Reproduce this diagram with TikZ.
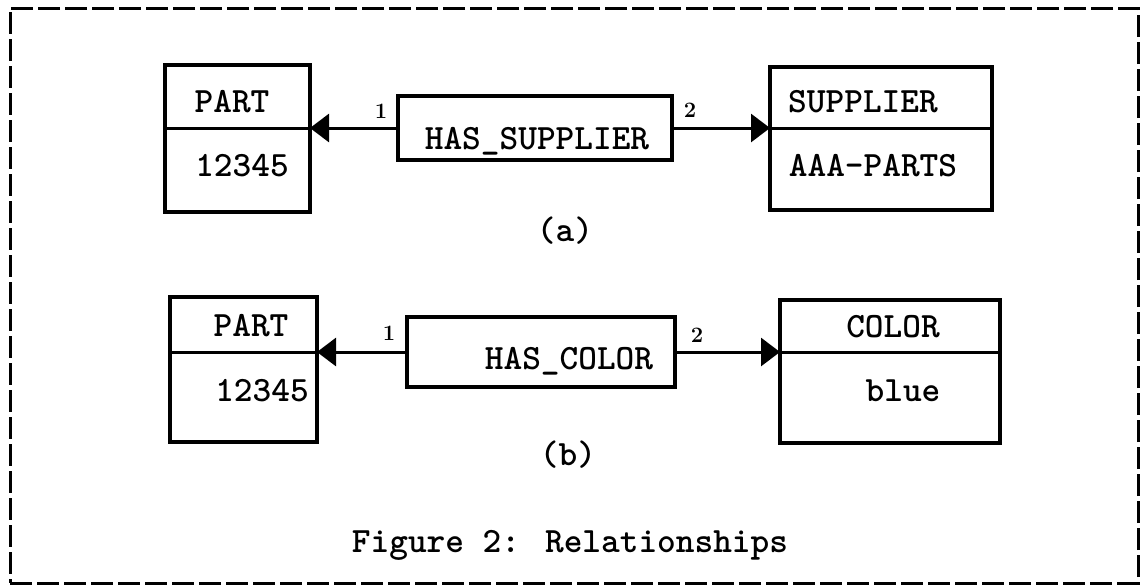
\documentclass[tikz,border=0pt]{standalone}
\usetikzlibrary{arrows.meta}
\begin{document}
\begin{tikzpicture}[x=0.5pt,y=-0.5pt,
  box/.style={draw, line width=1.7pt, inner sep=0pt, outer sep=0pt},
  rule/.style={line width=1.5pt},
  conn/.style={line width=1.5pt, -{Triangle[length=9.5pt,width=14pt]}},
  tt/.style={anchor=base, inner sep=0pt, font=\ttfamily\bfseries\fontsize{17.8}{20}\selectfont},
  ttcap/.style={anchor=base, inner sep=0pt, font=\ttfamily\bfseries\fontsize{17.8}{20}\selectfont},
  role/.style={anchor=base, inner sep=0pt, font=\rmfamily\bfseries\fontsize{11}{12}\selectfont},
  frame/.style={draw, line width=1.5pt, dash pattern=on 11pt off 2.5pt, inner sep=0pt}]
\useasboundingbox (0,0) rectangle (1141,585);

% outer dashed frame
\node[frame, minimum width=564pt, minimum height=287.5pt] (frame) at (574,295.5) {};

% ---- (a) PART --HAS_SUPPLIER--> SUPPLIER
\node[box, minimum width=72.5pt, minimum height=73.5pt] (partA) at (237.5,138.5) {};
\node[box, minimum width=111pt, minimum height=71.5pt] (supA) at (881,138.5) {};
\node[box, minimum width=137pt, minimum height=32pt] (relA) at (535,128) {};

\draw[rule] (relA.west -| partA.west) -- (relA.west -| partA.east);
\draw[rule] (relA.east -| supA.west) -- (relA.east -| supA.east);

\node[tt] (partAt) at (232,112) {PART};
\node[tt] (partAv) at (242,176) {12345};
\node[tt] (supAt) at (863,112) {SUPPLIER};
\node[tt] (supAv) at (873,176) {AAA-PARTS};
\node[tt] (relAt) at (537,149) {HAS\_SUPPLIER};

\draw[conn] (relA.west) -- (relA.west -| partA.east);
\draw[conn] (relA.east) -- (relA.east -| supA.west);
\node[role] (relA1) at (381,118) {1};
\node[role] (relA2) at (690,117) {2};

\node[tt] (capA) at (565,241) {(a)};

% ---- (b) PART --HAS_COLOR--> COLOR
\node[box, minimum width=73.5pt, minimum height=72.5pt] (partB) at (243.5,369.5) {};
\node[box, minimum width=110pt, minimum height=71.5pt] (colB) at (890,371.5) {};
\node[box, minimum width=134pt, minimum height=35pt] (relB) at (541,352) {};

\draw[rule] (relB.west -| partB.west) -- (relB.west -| partB.east);
\draw[rule] (relB.east -| colB.west) -- (relB.east -| colB.east);

\node[tt] (partBt) at (251,336) {PART};
\node[tt] (partBv) at (262,401) {12345};
\node[tt] (colBt) at (893,337) {COLOR};
\node[tt] (colBv) at (903,401) {blue};
\node[tt] (relBt) at (569,369) {HAS\_COLOR};

\draw[conn] (relB.west) -- (relB.west -| partB.east);
\draw[conn] (relB.east) -- (relB.east -| colB.west);
\node[role] (relB1) at (389,340) {1};
\node[role] (relB2) at (697,342) {2};

\node[tt] (capB) at (568,465) {(b)};

% caption
\node[ttcap] (caption) at (570,552) {Figure 2: Relationships};
\end{tikzpicture}
\end{document}
